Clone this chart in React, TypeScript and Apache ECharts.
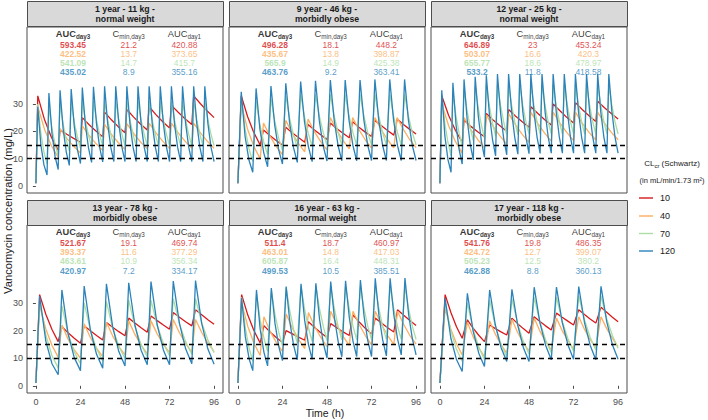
import React, { useEffect, useRef } from "react";
import * as echarts from "echarts";

// ---------------- data ----------------
const CL_LEVELS = ["10", "40", "70", "120"];
const COLORS = ["#D7191C", "#FDAE61", "#ABDDA4", "#2B83BA"];
const X_TICKS = [0, 24, 48, 72, 96];
const Y_TICKS = [0, 10, 20, 30];
const TARGET_LINES = [10, 15];
const END_TIME = 96;
const START_CONC = 1;

const PANEL_TITLES = [
  "1 year - 11 kg -\nnormal weight",
  "9 year - 46 kg -\nmorbidly obese",
  "12 year - 25 kg -\nnormal weight",
  "13 year - 78 kg -\nmorbidly obese",
  "16 year - 63 kg -\nnormal weight",
  "17 year - 118 kg -\nmorbidly obese",
];

const AUC_DAY3 = [
  ["593.45", "422.52", "541.09", "435.02"],
  ["496.28", "435.67", "565.9", "463.76"],
  ["646.89", "503.07", "655.77", "533.2"],
  ["521.67", "393.37", "463.61", "420.97"],
  ["511.4", "463.01", "605.87", "499.53"],
  ["541.76", "424.72", "505.23", "462.88"],
];
const CMIN_DAY3 = [
  ["21.2", "13.7", "14.7", "8.9"],
  ["18.1", "13.8", "14.9", "9.2"],
  ["23", "16.6", "18.6", "11.8"],
  ["19.1", "11.6", "10.9", "7.2"],
  ["18.7", "14.8", "16.4", "10.5"],
  ["19.8", "12.7", "12.5", "8.8"],
];
const AUC_DAY1 = [
  ["420.88", "373.65", "415.7", "355.16"],
  ["448.2", "398.87", "425.38", "363.41"],
  ["453.24", "420.3", "478.97", "418.58"],
  ["469.74", "377.29", "356.34", "334.17"],
  ["460.97", "417.03", "448.31", "385.51"],
  ["486.35", "399.07", "380.2", "360.13"],
];

// time from dose start to peak (h), per panel
const TIME_TO_PEAK = [1, 1.8, 1, 2, 2, 2.8];

// each dose: [dose time (h), peak, value 1/3 into decay, value 2/3 into decay, trough before next dose] (mg/L)
const P1_RED = [[0,33,24.2,17.8,13],[12,20.5,18.9,17.4,16],[24,25,22.4,20.1,18],[36,27,24.2,21.7,19.5],[48,28,25.2,22.7,20.5],[60,29,26.1,23.5,21.2],[72,29.5,27,24.6,22.5],[84,33,30.1,27.4,25]];
const P1_ORANGE = [[0,29,20.7,14.7,10.5],[12,21,17.4,14.5,12],[24,22,18.5,15.5,13],[36,22.5,18.9,15.9,13.4],[48,22.8,19.2,16.1,13.6],[60,23,19.4,16.4,13.7],[72,23,19.4,16.4,13.8],[84,23,19.4,16.4,13.8]];
const P1_GREEN = [[0,30,19.3,12.4,8],[6,29,21,15.2,11],[12,30,22.6,17,12.8],[18,30.5,23.4,18,13.8],[24,31,24,18.5,14.3],[30,31,24.1,18.8,14.6],[36,31,24.2,18.9,14.7],[42,31,24.2,18.9,14.7],[48,31,24.2,18.9,14.7],[54,31,24.2,18.9,14.7],[60,31,24.2,18.9,14.7],[66,31,24.2,18.9,14.7],[72,31,24.2,18.9,14.7],[78,31,24.2,18.9,14.7],[84,31,24.2,18.9,14.7],[90,31,24.2,18.9,14.7]];
const P1_BLUE = [[0,29,15,7.7,4],[6,34,19.1,10.7,6],[12,35,20.9,12.5,7.5],[18,35.5,21.8,13.4,8.2],[24,36,22.3,13.9,8.6],[30,36.3,22.6,14.1,8.8],[36,36.5,22.8,14.2,8.9],[42,36.5,22.8,14.2,8.9],[48,36.5,22.8,14.2,8.9],[54,36.5,22.8,14.2,8.9],[60,36.5,22.8,14.2,8.9],[66,36.5,22.8,14.2,8.9],[72,36.5,22.8,14.2,8.9],[78,36.5,22.8,14.2,8.9],[84,36.5,22.8,14.2,8.9],[90,36.5,22.8,14.2,8.9]];

const P2_RED = [[0,33,25.4,19.5,15],[12,20.5,18.5,16.6,15],[24,21.5,19.5,17.7,16],[36,22.5,20.5,18.7,17],[48,23,21,19.3,17.6],[60,23.5,21.5,19.7,18.1],[72,24,22.1,20.3,18.6],[84,24.5,22.5,20.7,19]];
const P2_ORANGE = [[0,30,20.8,14.4,10],[12,23,18.3,14.5,11.5],[24,24,19.3,15.6,12.5],[36,24.5,19.9,16.2,13.2],[48,25,20.4,16.7,13.6],[60,25,20.6,16.9,13.8],[72,25,20.6,16.9,13.9],[84,25,20.6,16.9,14]];
const P2_GREEN = [[0,32,21,13.7,9],[8,31,22.3,16,11.5],[16,32,23.7,17.5,13],[24,33,24.8,18.6,14],[32,33.5,25.4,19.2,14.5],[40,33.5,25.6,19.6,14.8],[48,33.5,25.6,19.6,14.9],[56,33.5,25.6,19.6,14.9],[64,33.5,25.6,19.6,15],[72,33.5,25.6,19.6,15],[80,33.5,25.6,19.6,15],[88,33.5,25.6,19.6,15]];
const P2_BLUE = [[0,34.5,18.1,9.5,5],[8,35.7,20.7,12.1,7],[16,36.6,22.1,13.3,8],[24,37.6,23,14.1,8.6],[32,38.2,23.5,14.5,8.9],[40,38.5,23.8,14.7,9.1],[48,38.8,24.1,14.9,9.2],[56,38.8,24.1,14.9,9.2],[64,38.8,24.1,14.9,9.3],[72,39,24.1,14.9,9.3],[80,39,24.1,14.9,9.3],[88,39,24.1,14.9,9.3]];

const P3_RED = [[0,33,25.9,20.4,16],[12,24,21.8,19.8,18],[24,26.5,24.1,22,20],[36,28,25.6,23.5,21.5],[48,29,26.6,24.3,22.3],[60,30,27.5,25.1,23],[72,30.5,28,25.7,23.6],[84,31,28.6,26.5,24.5]];
const P3_ORANGE = [[0,30,22.1,16.3,12],[12,25,20.6,17,14],[24,26,21.8,18.3,15.3],[36,26.5,22.4,18.9,16],[48,27,22.9,19.4,16.4],[60,27,23,19.6,16.6],[72,27,23,19.6,16.8],[84,27,23,19.6,16.9]];
const P3_GREEN = [[0,33,22.9,15.9,11],[6,34,25.6,19.3,14.5],[12,35.5,27.5,21.3,16.5],[18,36.5,28.6,22.3,17.5],[24,37,29.2,23,18.2],[30,37,29.5,23.5,18.6],[36,37,29.5,23.5,18.8],[42,37,29.5,23.5,19],[48,37,29.5,23.5,19],[54,37,29.5,23.5,19],[60,37,29.5,23.5,19],[66,37,29.5,23.5,19],[72,37,29.5,23.5,19],[78,37,29.5,23.5,19],[84,37,29.5,23.5,19],[90,37,29.5,23.5,19]];
const P3_BLUE = [[0,35,18.3,9.6,5],[6,37.8,22.5,13.4,8],[12,39,24.4,15.2,9.5],[18,40,25.6,16.4,10.5],[24,40.5,26.2,17,11],[30,41,26.8,17.5,11.4],[36,41,27,17.7,11.6],[42,41,27.1,17.9,11.8],[48,41,27.1,17.9,11.9],[54,41,27.1,17.9,12],[60,41,27.1,17.9,12],[66,41,27.1,17.9,12],[72,41,27.1,17.9,12],[78,41,27.1,17.9,12],[84,41,27.1,17.9,12],[90,41,27.1,17.9,12]];

const P4_RED = [[0,33,25.9,20.4,16],[12,21.4,19.2,17.2,15.4],[24,21.7,19.9,18.2,16.6],[36,22.9,21.2,19.6,18.1],[48,24.5,22.7,21,19.4],[60,25.3,23.6,22,20.5],[72,26.5,24.8,23.2,21.7],[84,27.5,25.7,23.9,22.3]];
const P4_ORANGE = [[0,29,20.6,14.6,10.4],[12,22,16.9,13,10],[24,22.5,17.5,13.6,10.6],[36,23,18.1,14.2,11.2],[48,23.5,18.6,14.7,11.6],[60,23.5,18.8,15,12],[72,24,19.2,15.3,12.2],[84,24,19.3,15.5,12.4]];
const P4_GREEN = [[0,31,18.4,10.9,6.5],[12,29,18.9,12.3,8],[24,30,20.1,13.4,9],[36,30.5,20.9,14.3,9.8],[48,31,21.5,15,10.4],[60,31,21.9,15.4,10.9],[72,31.5,22.5,16,11.4],[84,31.5,22.8,16.6,12]];
const P4_BLUE = [[0,32.5,16.2,8,4],[12,34.7,18.8,10.2,5.5],[24,36.1,20.3,11.4,6.4],[36,36.9,21.4,12.4,7.2],[48,37.3,22,12.9,7.6],[60,37.7,22.1,13,7.6],[72,37.9,22.6,13.4,8],[84,38.1,22.5,13.3,7.8]];

const P5_RED = [[0,33,25.6,19.9,15.5],[12,21.8,19.5,17.5,15.7],[24,20,18.8,17.6,16.5],[36,23.2,21.1,19.2,17.5],[48,22.5,21,19.5,18.2],[60,25.7,23.1,20.8,18.7],[72,24.5,22.7,21,19.5],[84,27.5,25.5,23.6,21.8]];
const P5_ORANGE = [[0,30,21.5,15.4,11],[12,25,19.8,15.7,12.5],[24,26,20.9,16.8,13.5],[36,26.5,21.5,17.5,14.2],[48,27,22,17.9,14.6],[60,27,22.2,18.2,14.8],[72,27,22.2,18.2,15],[84,27,22.2,18.2,15.1]];
const P5_GREEN = [[0,32,21,13.7,9],[8,33,23.9,17.3,12.5],[16,34.5,25.8,19.4,14.5],[24,35.5,26.9,20.4,15.5],[32,36,27.5,21,16],[40,36,27.8,21.5,16.4],[48,36,27.8,21.5,16.6],[56,36,27.8,21.5,16.7],[64,36,27.8,21.5,16.7],[72,36,27.8,21.5,16.8],[80,36,27.8,21.5,16.8],[88,36,27.8,21.5,16.8]];
const P5_BLUE = [[0,31.8,17.7,9.9,5.5],[8,34.7,20.5,12.2,7.2],[16,35.4,22.5,14.3,9.1],[24,35.9,23,14.7,9.4],[32,36.9,23.5,15,9.6],[40,37.1,24,15.5,10],[48,37.7,24.6,16.1,10.5],[56,38,24.8,16.2,10.6],[64,38.3,25,16.3,10.6],[72,38.9,25.4,16.6,10.8],[80,38.9,25.7,17,11.2],[88,39,25.7,17,11.2]];

const P6_RED = [[0,33,26.6,21.4,17.2],[12,23.9,20.9,18.3,16],[24,22,20.7,19.5,18.4],[36,24.5,22.5,20.7,19],[48,25,23.3,21.7,20.2],[60,26.3,24.8,23.4,22],[72,27.5,25.8,24.2,22.7],[84,28.4,26.6,24.8,23.2]];
const P6_ORANGE = [[0,28,20.6,15.2,11.2],[12,23,17.8,13.7,10.6],[24,23.5,18.7,14.9,11.8],[36,24,19.3,15.6,12.5],[48,24.5,19.8,16.1,13],[60,24.5,20,16.4,13.4],[72,25,20.5,16.8,13.8],[84,25,20.7,17.2,14.2]];
const P6_GREEN = [[0,30,19.9,13.2,8.8],[12,30,20.5,14,9.5],[24,31,21.6,15.1,10.5],[36,31.5,22.5,16.1,11.5],[48,32,23.1,16.6,12],[60,32,23.4,17.1,12.5],[72,32.5,24,17.6,13],[84,32.5,24.3,18.2,13.6]];
const P6_BLUE = [[0,31.7,17.3,9.5,5.2],[12,33.5,19.9,11.8,7],[24,34.7,22,13.9,8.8],[36,34.9,22.1,13.9,8.8],[48,35.7,22.9,14.7,9.4],[60,35.7,23.1,14.9,9.6],[72,35.9,23,14.7,9.4],[84,36,23.2,14.9,9.6]];

const PANEL_CURVES = [
  [P1_RED, P1_ORANGE, P1_GREEN, P1_BLUE],
  [P2_RED, P2_ORANGE, P2_GREEN, P2_BLUE],
  [P3_RED, P3_ORANGE, P3_GREEN, P3_BLUE],
  [P4_RED, P4_ORANGE, P4_GREEN, P4_BLUE],
  [P5_RED, P5_ORANGE, P5_GREEN, P5_BLUE],
  [P6_RED, P6_ORANGE, P6_GREEN, P6_BLUE],
];

// ---------------- layout ----------------
const FONT = "'Liberation Sans', Arial, Helvetica, sans-serif";
const COL_LEFT = [27, 229, 431];
const COL_W = 196;
const ROW_TOP = [27, 225];
const ROW_H = [166, 168];
const STRIP_TOP = [1, 200];
const STRIP_H = 26;
const X_MIN = -4.8, X_MAX = 100.8;
const Y_MIN = -2.6, Y_MAX = 58.2;
const TABLE_X = [20, 50, 80];
const TABLE_Y = [55.5, 51.6, 48.3, 45.0, 41.7];
const LEGEND_X = 639;
const LEGEND_Y = [198, 216, 233.5, 251];

function buildCurve(doses: number[][], tPeak: number) {
  const pts: number[][] = [[0, START_CONC]];
  doses.forEach((d, i) => {
    const t0 = d[0];
    const tEnd = i + 1 < doses.length ? doses[i + 1][0] : END_TIME;
    const tp = t0 + tPeak;
    const span = tEnd - tp;
    pts.push([tp, d[1]]);
    pts.push([tp + span / 3, d[2]]);
    pts.push([tp + (2 * span) / 3, d[3]]);
    pts.push([tEnd, d[4]]);
  });
  return pts;
}

function buildOption() {
  const grid: any[] = [];
  const xAxis: any[] = [];
  const yAxis: any[] = [];
  const series: any[] = [];
  const graphic: any[] = [];

  for (let i = 0; i < 6; i++) {
    const row = Math.floor(i / 3);
    const col = i % 3;
    grid.push({
      left: COL_LEFT[col], top: ROW_TOP[row], width: COL_W, height: ROW_H[row],
      show: true, borderColor: "#4d4d4d", borderWidth: 1, backgroundColor: "#ffffff",
      containLabel: false,
    });
    xAxis.push({
      type: "value", gridIndex: i, min: X_MIN, max: X_MAX,
      axisLine: { show: false }, splitLine: { show: false },
      axisTick: { show: row === 1, customValues: X_TICKS, length: 3, lineStyle: { color: "#4d4d4d" } },
      axisLabel: { show: row === 1, customValues: X_TICKS, fontSize: 9, color: "#4d4d4d", margin: 4, fontFamily: FONT },
    });
    yAxis.push({
      type: "value", gridIndex: i, min: Y_MIN, max: Y_MAX,
      axisLine: { show: false }, splitLine: { show: false },
      axisTick: { show: col === 0, customValues: Y_TICKS, length: 3, lineStyle: { color: "#4d4d4d" } },
      axisLabel: { show: col === 0, customValues: Y_TICKS, fontSize: 9, color: "#4d4d4d", margin: 4, fontFamily: FONT },
    });

    PANEL_CURVES[i].forEach((doses, k) => {
      series.push({
        type: "line", name: CL_LEVELS[k], xAxisIndex: i, yAxisIndex: i,
        data: buildCurve(doses, TIME_TO_PEAK[i]),
        symbol: "none", silent: true, z: 2,
        lineStyle: { color: COLORS[k], width: 1.3 },
        itemStyle: { color: COLORS[k] },
      });
    });

    series.push({
      type: "line", xAxisIndex: i, yAxisIndex: i, data: [], symbol: "none", silent: true, z: 3,
      markLine: {
        silent: true, symbol: "none", label: { show: false },
        lineStyle: { color: "#000000", type: [5, 4], width: 1.3 },
        data: TARGET_LINES.map((v) => ({ yAxis: v })),
      },
    });

    const items: any[] = [
      { value: [TABLE_X[0], TABLE_Y[0]], label: { formatter: "{hb|AUC}{sb|day3}" } },
      { value: [TABLE_X[1], TABLE_Y[0]], label: { formatter: "{h|C}{s|min,day3}" } },
      { value: [TABLE_X[2], TABLE_Y[0]], label: { formatter: "{h|AUC}{s|day1}" } },
    ];
    for (let r = 0; r < 4; r++) {
      items.push({ value: [TABLE_X[0], TABLE_Y[r + 1]], label: { formatter: AUC_DAY3[i][r], color: COLORS[r], fontWeight: "bold" } });
      items.push({ value: [TABLE_X[1], TABLE_Y[r + 1]], label: { formatter: CMIN_DAY3[i][r], color: COLORS[r] } });
      items.push({ value: [TABLE_X[2], TABLE_Y[r + 1]], label: { formatter: AUC_DAY1[i][r], color: COLORS[r] } });
    }
    series.push({
      type: "scatter", xAxisIndex: i, yAxisIndex: i, symbolSize: 0, silent: true, z: 4,
      itemStyle: { color: "transparent" },
      label: {
        show: true, position: "inside", fontSize: 8.5, lineHeight: 8, fontFamily: FONT, color: "#000",
        rich: {
          hb: { fontSize: 9.3, lineHeight: 8, fontWeight: "bold", fontFamily: FONT, color: "#000" },
          sb: { fontSize: 6.3, lineHeight: 5, fontWeight: "bold", fontFamily: FONT, color: "#000", padding: [4, 0, 0, 0] },
          h: { fontSize: 9.3, lineHeight: 8, fontFamily: FONT, color: "#000" },
          s: { fontSize: 6.3, lineHeight: 5, fontFamily: FONT, color: "#000", padding: [4, 0, 0, 0] },
        },
      },
      data: items,
    });

    graphic.push({
      type: "rect", silent: true,
      shape: { x: COL_LEFT[col] + 0.5, y: STRIP_TOP[row] + 0.5, width: COL_W, height: STRIP_H - 1 },
      style: { fill: "#D9D9D9", stroke: "#4d4d4d", lineWidth: 1 },
    });
    graphic.push({
      type: "text", silent: true,
      x: COL_LEFT[col] + COL_W / 2, y: STRIP_TOP[row] + STRIP_H / 2,
      style: {
        text: PANEL_TITLES[i], fill: "#1a1a1a", fontSize: 8.7, fontWeight: "bold", fontFamily: FONT,
        align: "center", verticalAlign: "middle", lineHeight: 10,
      },
    });
  }

  // legend (drawn by hand so that keys are plain line segments)
  CL_LEVELS.forEach((lvl, k) => {
    graphic.push({
      type: "line", silent: true,
      shape: { x1: LEGEND_X, y1: LEGEND_Y[k], x2: LEGEND_X + 14, y2: LEGEND_Y[k] },
      style: { stroke: COLORS[k], lineWidth: 1.4 },
    });
    graphic.push({
      type: "text", silent: true, x: LEGEND_X + 21, y: LEGEND_Y[k],
      style: { text: lvl, fill: "#1a1a1a", fontSize: 9, fontFamily: FONT, align: "left", verticalAlign: "middle" },
    });
  });

  graphic.push({
    type: "text", silent: true, x: 8, y: 211, rotation: Math.PI / 2,
    style: { text: "Vancomycin concentration (mg/L)", fill: "#1a1a1a", fontSize: 11.2, fontFamily: FONT, align: "center", verticalAlign: "middle" },
  });
  graphic.push({
    type: "text", silent: true, x: 325, y: 413,
    style: { text: "Time (h)", fill: "#1a1a1a", fontSize: 10.5, fontFamily: FONT, align: "center", verticalAlign: "middle" },
  });
  graphic.push({
    type: "text", silent: true, x: 672, y: 163,
    style: {
      text: "{a|CL}{b|cr}{a| (Schwartz)}", align: "center", verticalAlign: "middle",
      rich: {
        a: { fontSize: 8, fontFamily: FONT, fill: "#1a1a1a" },
        b: { fontSize: 6, fontFamily: FONT, fill: "#1a1a1a", padding: [5, 0, 0, 0] },
      },
    },
  });
  graphic.push({
    type: "text", silent: true, x: 672, y: 180,
    style: { text: "(in mL/min/1.73 m\u00B2)", fill: "#1a1a1a", fontSize: 7.5, fontFamily: FONT, align: "center", verticalAlign: "middle" },
  });

  return {
    animation: false,
    backgroundColor: "#ffffff",
    grid, xAxis, yAxis, series, graphic,
  };
}

export default function App() {
  const ref = useRef<HTMLDivElement>(null);
  useEffect(() => {
    const chart = echarts.init(ref.current as HTMLDivElement, null, { renderer: "svg" });
    chart.setOption(buildOption() as any);
    return () => chart.dispose();
  }, []);
  return <div ref={ref} style={{ position: "absolute", left: 0, top: 0, width: 708, height: 420 }} />;
}
